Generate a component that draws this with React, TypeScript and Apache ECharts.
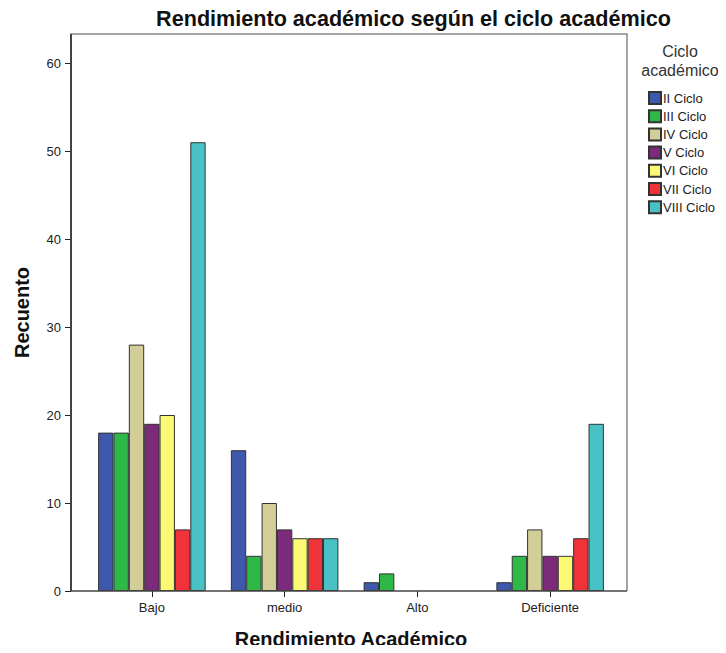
import React, { useEffect, useRef } from "react";
import * as echarts from "echarts";

const categories = ["Bajo", "medio", "Alto", "Deficiente"];
const seriesNames = ["II Ciclo", "III Ciclo", "IV Ciclo", "V Ciclo", "VI Ciclo", "VII Ciclo", "VIII Ciclo"];
const iiCiclo = [18, 16, 1, 1];
const iiiCiclo = [18, 4, 2, 4];
const ivCiclo = [28, 10, 0, 7];
const vCiclo = [19, 7, 0, 4];
const viCiclo = [20, 6, 0, 4];
const viiCiclo = [7, 6, 0, 6];
const viiiCiclo = [51, 6, 0, 19];
const colors = ["#3E58AC", "#2EB848", "#D3CE97", "#7C2A7A", "#FBF873", "#EF3338", "#48C2C5"];

const FONT = "Liberation Sans, Arial, sans-serif";

export default function App() {
  const ref = useRef<HTMLDivElement>(null);
  useEffect(() => {
    if (!ref.current) return;
    const chart = echarts.init(ref.current, undefined, { renderer: "svg" });
    const allData = [iiCiclo, iiiCiclo, ivCiclo, vCiclo, viCiclo, viiCiclo, viiiCiclo];
    const L = 71, T = 34, R = 627, B = 591;
    chart.setOption({
      animation: false,
      textStyle: { fontFamily: FONT },
      grid: { left: 85.5, right: 726 - 616.5, top: T, bottom: 653 - B, containLabel: false, outerBoundsMode: "none" },
      xAxis: {
        type: "category",
        data: categories,
        axisLine: { show: false },
        axisTick: { show: true, alignWithLabel: true, length: 6, lineStyle: { color: "#222", width: 1 } },
        axisLabel: { color: "#222", fontSize: 13, margin: 10, fontFamily: FONT },
        name: "Rendimiento Académico",
        nameLocation: "middle",
        nameGap: 38,
        nameTextStyle: { fontSize: 20, fontWeight: "bold", color: "#111", fontFamily: FONT },
      },
      yAxis: {
        type: "value",
        min: 0,
        max: 63.3,
        interval: 10,
        offset: 14.5,
        splitLine: { show: false },
        axisLine: { show: false },
        axisTick: { show: true, length: 6, lineStyle: { color: "#222", width: 1 } },
        axisLabel: { color: "#222", fontSize: 13, margin: 10, fontFamily: FONT, showMaxLabel: false },
        name: "Recuento",
        nameLocation: "middle",
        nameGap: 39,
        nameTextStyle: { fontSize: 20, fontWeight: "bold", color: "#111", fontFamily: FONT },
      },
      legend: {
        orient: "vertical",
        left: 643,
        top: 86,
        itemWidth: 12,
        itemHeight: 12,
        itemGap: 4.2,
        icon: "rect",
        data: seriesNames,
        textStyle: { fontSize: 13, color: "#222", fontFamily: FONT, padding: [0, 0, 0, -3] },
      },
      graphic: [
        { type: "text", x: 413.5, y: 7, style: { text: "Rendimiento académico según el ciclo académico", fontSize: 21.6, fontWeight: "bold", fill: "#111", textAlign: "center", fontFamily: FONT } },
        { type: "text", x: 680, y: 42, style: { text: "Ciclo\nacadémico", fontSize: 16, lineHeight: 19, fill: "#333", textAlign: "center", fontFamily: FONT } },
        { type: "polyline", shape: { points: [[L, B], [L, T], [R, T], [R, B]] }, style: { stroke: "#888", lineWidth: 1.5, fill: "none" }, z: 10 },
        { type: "line", shape: { x1: L, y1: T, x2: L, y2: B }, style: { stroke: "#222", lineWidth: 1.5 }, z: 11 },
        { type: "line", shape: { x1: L, y1: B, x2: R, y2: B }, style: { stroke: "#444", lineWidth: 1.5 }, z: 11 },
      ],
      series: seriesNames.map((name, i) => ({
        name,
        type: "bar",
        data: allData[i].map((v) => (v === 0 ? { value: v, itemStyle: { borderWidth: 0 } } : v)),
        barGap: "0%",
        barCategoryGap: "19%",
        itemStyle: { color: colors[i], borderColor: "#333", borderWidth: 1 },
      })),
    });
    return () => chart.dispose();
  }, []);
  return <div ref={ref} style={{ width: 726, height: 653, margin: -8 }} />;
}
